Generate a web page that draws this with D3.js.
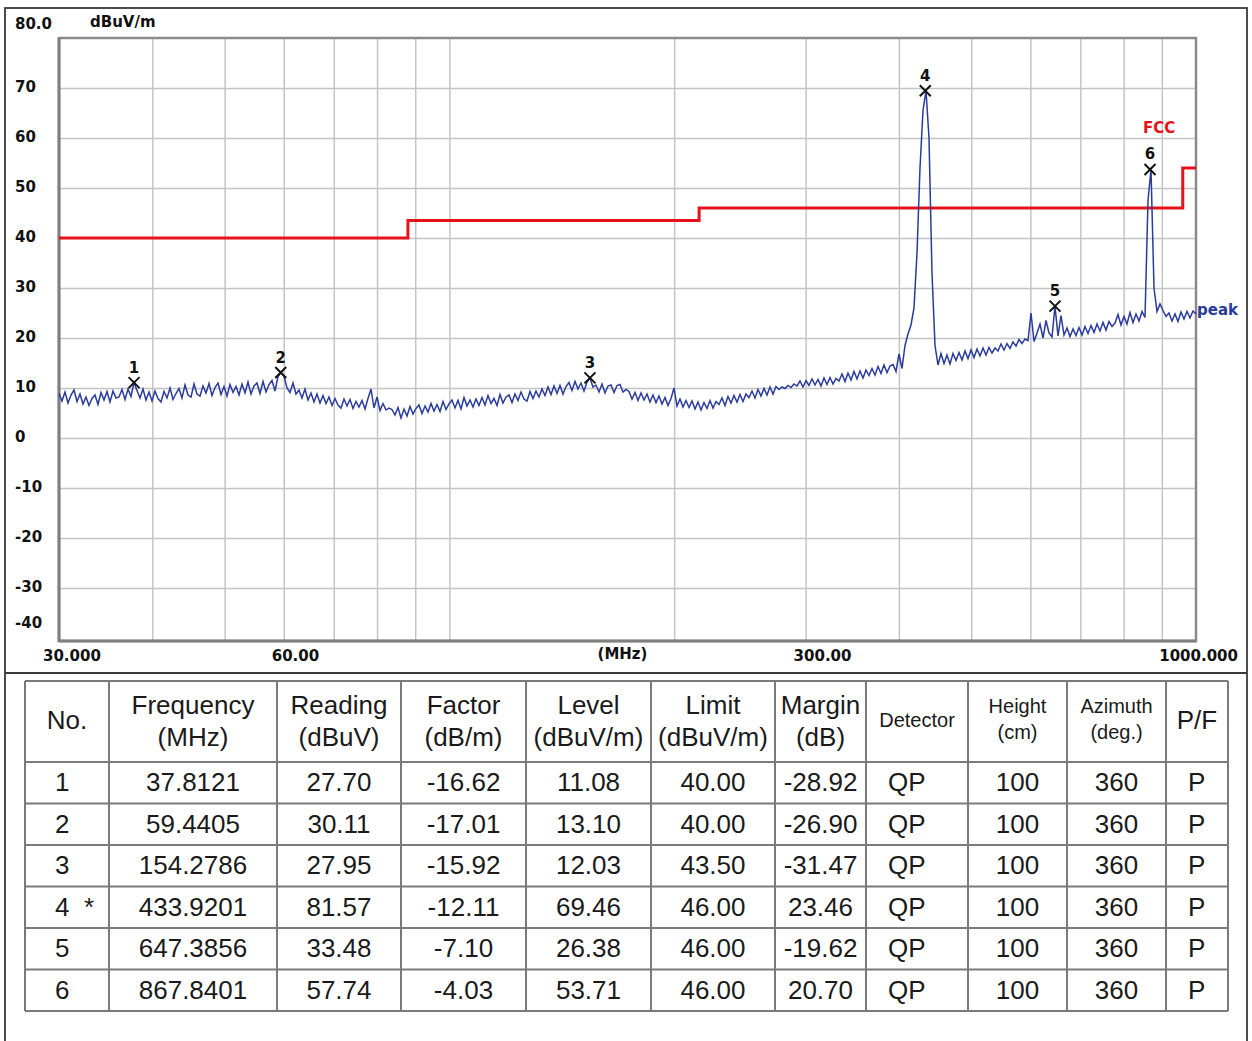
<!DOCTYPE html>
<html><head><meta charset="utf-8">
<script src="https://cdn.jsdelivr.net/npm/d3@7"></script>
<style>body{margin:0;background:#fff}</style>
</head><body><svg id="c" width="1252" height="1041"></svg>
<script>
// ---------- DATA ----------
const yTickValues = [80,70,60,50,40,30,20,10,0,-10,-20,-30,-40];
const yTickLabels = ["80.0","70","60","50","40","30","20","10","0","-10","-20","-30","-40"];
const xGridValues = [40,50,60,70,80,90,100,200,300,400,500,600,700,800,900];
const xLabelValues = [30,60,300,1000];
const xLabelTexts = ["30.000","60.00","300.00","1000.000"];
const yUnit = "dBuV/m";
const xUnit = "(MHz)";

const limitFreqs  = [30,88,88,216,216,960,960,1000];
const limitLevels = [40,40,43.5,43.5,46,46,54,54];
const limitName = "FCC";
const traceName = "peak";

const sweepStart = 30, sweepStop = 1000;
const traceLevels = [
 8.9,7.4,9.2,7.0,8.6,9.6,7.3,8.8,6.8,8.2,
 6.5,7.9,8.6,6.7,9.1,7.6,9.3,7.2,9.4,8.0,
 8.2,9.7,7.7,9.8,8.3,11.1,9.5,8.0,9.8,7.6,
 9.2,7.4,9.4,7.9,7.2,9.3,8.0,10.0,7.7,8.9,
 9.9,8.0,10.6,8.6,8.2,10.8,8.8,8.4,10.4,9.0,
 10.9,8.5,10.1,11.0,8.7,10.3,8.4,10.7,9.1,10.3,
 8.6,10.8,9.0,11.2,8.8,10.4,11.0,8.9,11.3,9.2,
 10.7,11.5,9.4,12.3,13.1,12.4,10.0,9.1,11.0,8.8,
 9.6,8.0,9.8,7.6,9.0,7.2,8.8,7.0,8.5,6.9,
 8.2,6.5,7.9,6.6,6.0,7.8,6.4,7.7,5.9,7.3,
 6.2,7.5,5.8,7.9,9.8,6.0,8.2,5.5,6.9,5.6,
 6.0,5.7,4.6,6.1,4.0,5.8,4.4,6.3,4.8,5.9,
 6.6,4.9,6.4,5.2,6.9,5.4,6.7,5.3,7.3,5.7,
 6.8,7.6,6.0,7.5,5.8,8.1,6.4,7.6,6.2,7.8,
 6.5,8.1,6.6,8.5,6.9,7.9,6.5,8.7,7.0,8.2,
 8.6,7.1,8.8,7.5,9.2,7.8,7.4,9.3,7.9,9.4,
 8.2,9.8,8.5,10.2,8.7,10.4,8.9,10.5,8.8,10.3,
 11.1,9.5,11.3,9.8,11.0,9.4,11.2,12.0,10.2,10.6,
 9.2,10.8,9.0,10.4,10.6,9.1,10.5,10.7,9.2,9.7,
 9.3,7.8,9.1,7.5,9.0,7.6,8.8,7.2,8.6,7.1,
 8.4,6.8,8.1,6.5,7.9,10.0,6.4,7.8,6.2,7.5,
 6.1,7.4,5.8,7.2,5.6,7.1,5.9,7.5,6.0,7.3,
 6.7,8.0,6.5,8.3,7.0,8.5,7.2,8.7,7.3,8.8,
 8.1,9.4,8.0,9.7,8.4,9.9,8.6,10.2,8.8,10.3,
 9.7,10.2,9.9,10.5,10.1,10.8,10.4,11.4,10.2,11.5,
 10.5,11.8,10.6,11.7,10.4,12.0,10.7,12.1,10.8,11.9,
 11.4,12.8,11.3,13.0,11.6,13.3,11.8,13.4,12.0,13.6,
 12.5,13.9,12.6,14.3,12.9,14.6,13.1,14.4,14.7,13.3,
 16.8,13.9,18.5,20.8,22.6,26.0,37.0,54.0,65.5,69.46,
 60.0,33.0,18.5,14.6,16.9,14.9,16.6,14.8,16.9,15.5,
 17.1,15.6,17.4,15.9,17.6,16.1,17.8,16.4,18.0,16.6,
 18.1,17.0,18.0,17.4,18.8,17.6,18.9,17.9,19.2,18.4,
 19.7,18.9,19.8,19.5,25.0,19.3,21.0,22.8,20.0,23.5,
 21.0,20.2,26.38,20.4,24.5,20.6,22.0,20.3,21.8,20.5,
 22.1,20.6,22.3,20.9,22.5,21.1,22.8,21.4,23.1,21.6,
 23.3,22.3,23.0,24.7,22.6,24.3,22.8,25.1,23.1,24.8,
 23.4,25.3,24.1,47.5,53.71,30.0,25.3,26.8,25.5,24.3,
 25.0,23.4,24.8,23.3,25.2,23.8,25.3,24.0,25.4,24.8
];

// table
const tableNo       = ["1","2","3","4  *","5","6"];
const tableFreq     = [37.8121,59.4405,154.2786,433.9201,647.3856,867.8401];
const tableFreqText = ["37.8121","59.4405","154.2786","433.9201","647.3856","867.8401"];
const tableReading  = ["27.70","30.11","27.95","81.57","33.48","57.74"];
const tableFactor   = ["-16.62","-17.01","-15.92","-12.11","-7.10","-4.03"];
const tableLevel    = [11.08,13.10,12.03,69.46,26.38,53.71];
const tableLevelText= ["11.08","13.10","12.03","69.46","26.38","53.71"];
const tableLimit    = ["40.00","40.00","43.50","46.00","46.00","46.00"];
const tableMargin   = ["-28.92","-26.90","-31.47","23.46","-19.62","20.70"];
const tableDetector = ["QP","QP","QP","QP","QP","QP"];
const tableHeight   = ["100","100","100","100","100","100"];
const tableAzimuth  = ["360","360","360","360","360","360"];
const tablePF       = ["P","P","P","P","P","P"];
const tableHeaders  = [["No."],["Frequency","(MHz)"],["Reading","(dBuV)"],["Factor","(dB/m)"],["Level","(dBuV/m)"],["Limit","(dBuV/m)"],["Margin","(dB)"],["Detector"],["Height","(cm)"],["Azimuth","(deg.)"],["P/F"]];

// ---------- LAYOUT ----------
const W=1252,H=1041;
const L=59,R=1196,T=38,B=638,BB=641;
const svg=d3.select("#c");
svg.append("rect").attr("width",W).attr("height",H).attr("fill","#fff");
const x=d3.scaleLog().domain([sweepStart,sweepStop]).range([L,R]);
const y=d3.scaleLinear().domain([80,-40]).range([T,B]);
const axisFont="'DejaVu Sans',Verdana,sans-serif";

// outer frame & separator
svg.append("rect").attr("x",5).attr("y",8).attr("width",1242).attr("height",1045)
  .attr("fill","none").attr("stroke","#3a3a3a").attr("stroke-width",1.8);
svg.append("line").attr("x1",5).attr("x2",1247).attr("y1",673).attr("y2",673)
  .attr("stroke","#3a3a3a").attr("stroke-width",2);

// grid via axes
const gx=svg.append("g").attr("transform",`translate(0,${BB})`)
  .call(d3.axisBottom(x).tickValues(xGridValues).tickSize(-(BB-T)).tickFormat(""));
const gy=svg.append("g").attr("transform",`translate(${L},0)`)
  .call(d3.axisLeft(y).tickValues(yTickValues.filter(v=>v<80&&v>-40)).tickSize(-(R-L)).tickFormat(""));
[gx,gy].forEach(g=>{g.select(".domain").remove();g.selectAll(".tick line").attr("stroke","#c4c4c4").attr("stroke-width",1.5);});

// plot border
svg.append("rect").attr("x",L).attr("y",T).attr("width",R-L).attr("height",BB-T)
  .attr("fill","none").attr("stroke","#8a8a8a").attr("stroke-width",2.5);
svg.append("line").attr("x1",L).attr("x2",L).attr("y1",T).attr("y2",BB+1).attr("stroke","#808080").attr("stroke-width",3);
svg.append("line").attr("x1",L).attr("x2",R).attr("y1",BB).attr("y2",BB).attr("stroke","#808080").attr("stroke-width",3);

// y labels
svg.append("g").selectAll("text").data(yTickValues).join("text")
  .attr("x",15)
  .attr("y",(v,i)=> v===80 ? y(v)-14 : (v===-40 ? y(v)-15 : y(v)-1))
  .attr("dominant-baseline","central")
  .attr("font-family",axisFont).attr("font-weight","bold").attr("font-size",15).attr("fill","#111")
  .text((v,i)=>yTickLabels[i]);
svg.append("text").attr("x",90).attr("y",22).attr("dominant-baseline","central")
  .attr("font-family",axisFont).attr("font-weight","bold").attr("font-size",15).attr("fill","#111").text(yUnit);

// x labels
svg.append("g").selectAll("text").data(xLabelValues).join("text")
  .attr("x",(v,i)=> i===xLabelValues.length-1 ? x(v)+42 : x(v)-(i===0?16:12))
  .attr("text-anchor",(v,i)=> i===xLabelValues.length-1 ? "end":"start")
  .attr("y",656).attr("dominant-baseline","central")
  .attr("font-family",axisFont).attr("font-weight","bold").attr("font-size",15).attr("fill","#111")
  .text((v,i)=>xLabelTexts[i]);
svg.append("text").attr("x",(L+R)/2-5).attr("y",654).attr("text-anchor","middle").attr("dominant-baseline","central")
  .attr("font-family",axisFont).attr("font-weight","bold").attr("font-size",15).attr("fill","#111").text(xUnit);

// limit line
svg.append("path").datum(limitFreqs.map((f,i)=>[f,limitLevels[i]]))
  .attr("d",d3.line().x(d=>x(d[0])).y(d=>y(d[1])))
  .attr("fill","none").attr("stroke","#e5121c").attr("stroke-width",3);
svg.append("text").attr("x",1143).attr("y",y(62)).attr("dominant-baseline","central")
  .attr("font-family",axisFont).attr("font-weight","bold").attr("font-size",15).attr("fill","#e5121c").text(limitName);

// trace
const N=traceLevels.length;
const traceData=traceLevels.map((v,i)=>[sweepStart*Math.pow(sweepStop/sweepStart,i/(N-1)),v]);
svg.append("path").datum(traceData)
  .attr("d",d3.line().x(d=>x(d[0])).y(d=>y(d[1])))
  .attr("fill","none").attr("stroke","#2a3b9e").attr("stroke-width",1.5).attr("stroke-linejoin","miter");
svg.append("text").attr("x",R+1).attr("y",y(25.6)).attr("dominant-baseline","central")
  .attr("font-family",axisFont).attr("font-weight","bold").attr("font-size",15).attr("fill","#2a3b9e").text(traceName);

// markers
const mk=svg.append("g").selectAll("g").data(tableFreq).join("g")
  .attr("transform",(f,i)=>`translate(${x(f)},${y(tableLevel[i])})`);
mk.append("path").attr("d","M-5.5,-5.5L5.5,5.5M-5.5,5.5L5.5,-5.5").attr("stroke","#111").attr("stroke-width",2);
mk.append("text").attr("y",-15).attr("text-anchor","middle").attr("dominant-baseline","central")
  .attr("font-family",axisFont).attr("font-weight","bold").attr("font-size",15).attr("fill","#111")
  .text((f,i)=>String(i+1));

// ---------- TABLE ----------
const colEdges=[25,109,277,401,526,651,775,866,968,1067,1166,1228];
const tTop=681,hBottom=762,rowH=41.5;
const rowEdges=[tTop,hBottom];
for(let i=1;i<=tableNo.length;i++) rowEdges.push(hBottom+i*rowH);
const tb=svg.append("g");
rowEdges.forEach(yy=>tb.append("line").attr("x1",colEdges[0]).attr("x2",colEdges[colEdges.length-1]).attr("y1",yy).attr("y2",yy).attr("stroke","#7a7a7a").attr("stroke-width",2));
colEdges.forEach(xx=>tb.append("line").attr("x1",xx).attr("x2",xx).attr("y1",tTop).attr("y2",rowEdges[rowEdges.length-1]).attr("stroke","#7a7a7a").attr("stroke-width",2));
const tFont="'Liberation Sans',Arial,sans-serif";
const smallCols=new Set([7,8,9]);
tableHeaders.forEach((lines,c)=>{
  const cx=(colEdges[c]+colEdges[c+1])/2;
  const fs=smallCols.has(c)?20:26;
  const ys = lines.length===1 ? [720] : (smallCols.has(c)?[706,732]:[705,737]);
  lines.forEach((t,k)=>tb.append("text").attr("x",cx).attr("y",ys[k]).attr("text-anchor","middle")
    .attr("dominant-baseline","central").attr("font-family",tFont).attr("font-size",fs).attr("fill","#1a1a1a").text(t));
});
const cols=[tableNo,tableFreqText,tableReading,tableFactor,tableLevelText,tableLimit,tableMargin,tableDetector,tableHeight,tableAzimuth,tablePF];
cols.forEach((arr,c)=>{
  arr.forEach((t,r)=>{
    const cy=hBottom+r*rowH+20;
    let xx=(colEdges[c]+colEdges[c+1])/2, anchor="middle";
    if(c===0){xx=55;anchor="start";}
    if(c===7){xx=colEdges[c]+22;anchor="start";}
    if(c===10){xx=colEdges[c]+22;anchor="start";}
    tb.append("text").attr("x",xx).attr("y",cy).attr("text-anchor",anchor).attr("dominant-baseline","central")
      .attr("font-family",tFont).attr("font-size",26).attr("fill","#1a1a1a").style("white-space","pre").text(t);
  });
});
</script></body></html>
